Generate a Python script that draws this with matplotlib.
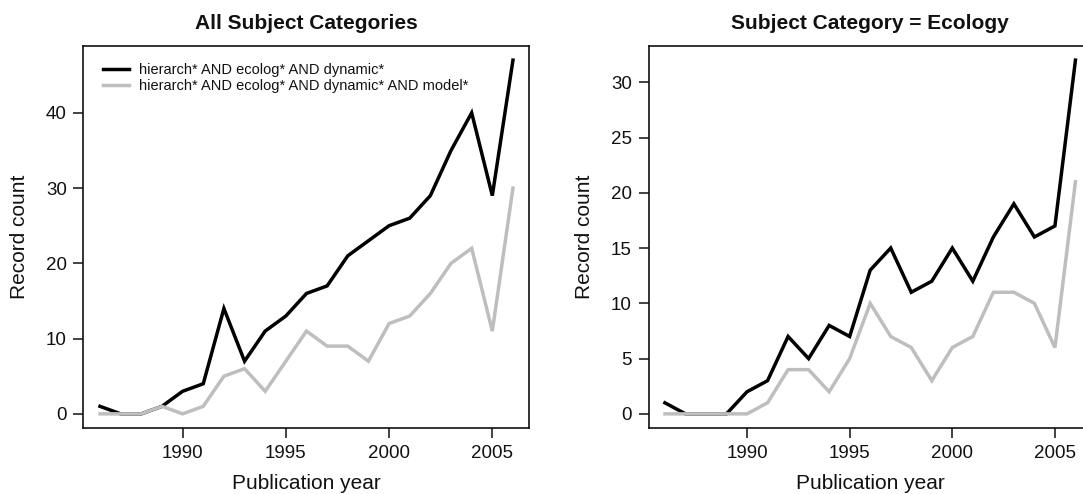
import numpy as np
import matplotlib
matplotlib.use("Agg")
import matplotlib.pyplot as plt

plt.rcParams['font.family'] = ['Liberation Sans', 'DejaVu Sans']

years = list(range(1986, 2007))

# All subject categories
all_dyn = [1, 0, 0, 1, 3, 4, 14, 7, 11, 13, 16, 17, 21, 23, 25, 26, 29, 35, 40, 29, 47]
all_model = [0, 0, 0, 1, 0, 1, 5, 6, 3, 7, 11, 9, 9, 7, 12, 13, 16, 20, 22, 11, 30]

# Subject category = Ecology
eco_dyn = [1, 0, 0, 0, 2, 3, 7, 5, 8, 7, 13, 15, 11, 12, 15, 12, 16, 19, 16, 17, 32]
eco_model = [0, 0, 0, 0, 0, 1, 4, 4, 2, 5, 10, 7, 6, 3, 6, 7, 11, 11, 10, 6, 21]

labels = ["hierarch* AND ecolog* AND dynamic*",
          "hierarch* AND ecolog* AND dynamic* AND model*"]
titles = ["All Subject Categories", "Subject Category = Ecology"]
xticks = [1990, 1995, 2000, 2005]
yticks_left = [0, 10, 20, 30, 40]
yticks_right = [0, 5, 10, 15, 20, 25, 30]

black = "#000000"
gray = "#bebebe"
ink = "#111111"

fig = plt.figure(figsize=(10.83, 4.94), dpi=100)
ax1 = fig.add_axes([0.0771, 0.1336, 0.4118, 0.7733])
ax2 = fig.add_axes([0.5988, 0.1336, 0.4094, 0.7733])


def r_style(ax, dyn, model, title, yticks):
    ax.plot(years, dyn, color=black, lw=2.5, solid_joinstyle='miter')
    ax.plot(years, model, color=gray, lw=2.5, solid_joinstyle='miter')
    ymax = max(dyn)
    pad_x = (years[-1] - years[0]) * 0.04
    pad_y = ymax * 0.04
    ax.set_xlim(years[0] - pad_x, years[-1] + pad_x)
    ax.set_ylim(-pad_y, ymax + pad_y)
    ax.set_xticks(xticks)
    ax.set_yticks(yticks)
    ax.tick_params(direction='out', length=7, width=1.1, labelsize=13.5,
                   pad=5, color=ink, labelcolor=ink)
    for s in ax.spines.values():
        s.set_linewidth(1.2)
        s.set_color(ink)
    ax.set_title(title, fontsize=15, fontweight='bold', pad=12, color=ink)
    ax.set_xlabel("Publication year", fontsize=15, labelpad=9, color=ink)
    ax.set_ylabel("Record count", fontsize=15, labelpad=12, color=ink)


r_style(ax1, all_dyn, all_model, titles[0], yticks_left)
r_style(ax2, eco_dyn, eco_model, titles[1], yticks_right)

h = ax1.get_lines()
ax1.legend(h, labels, loc='upper left', bbox_to_anchor=(0.043, 0.955),
           frameon=False, fontsize=10.5, handlelength=1.8, handletextpad=0.7,
           labelspacing=0.1, borderpad=0, borderaxespad=0, labelcolor=ink)

fig.savefig("out.png", dpi=100)
